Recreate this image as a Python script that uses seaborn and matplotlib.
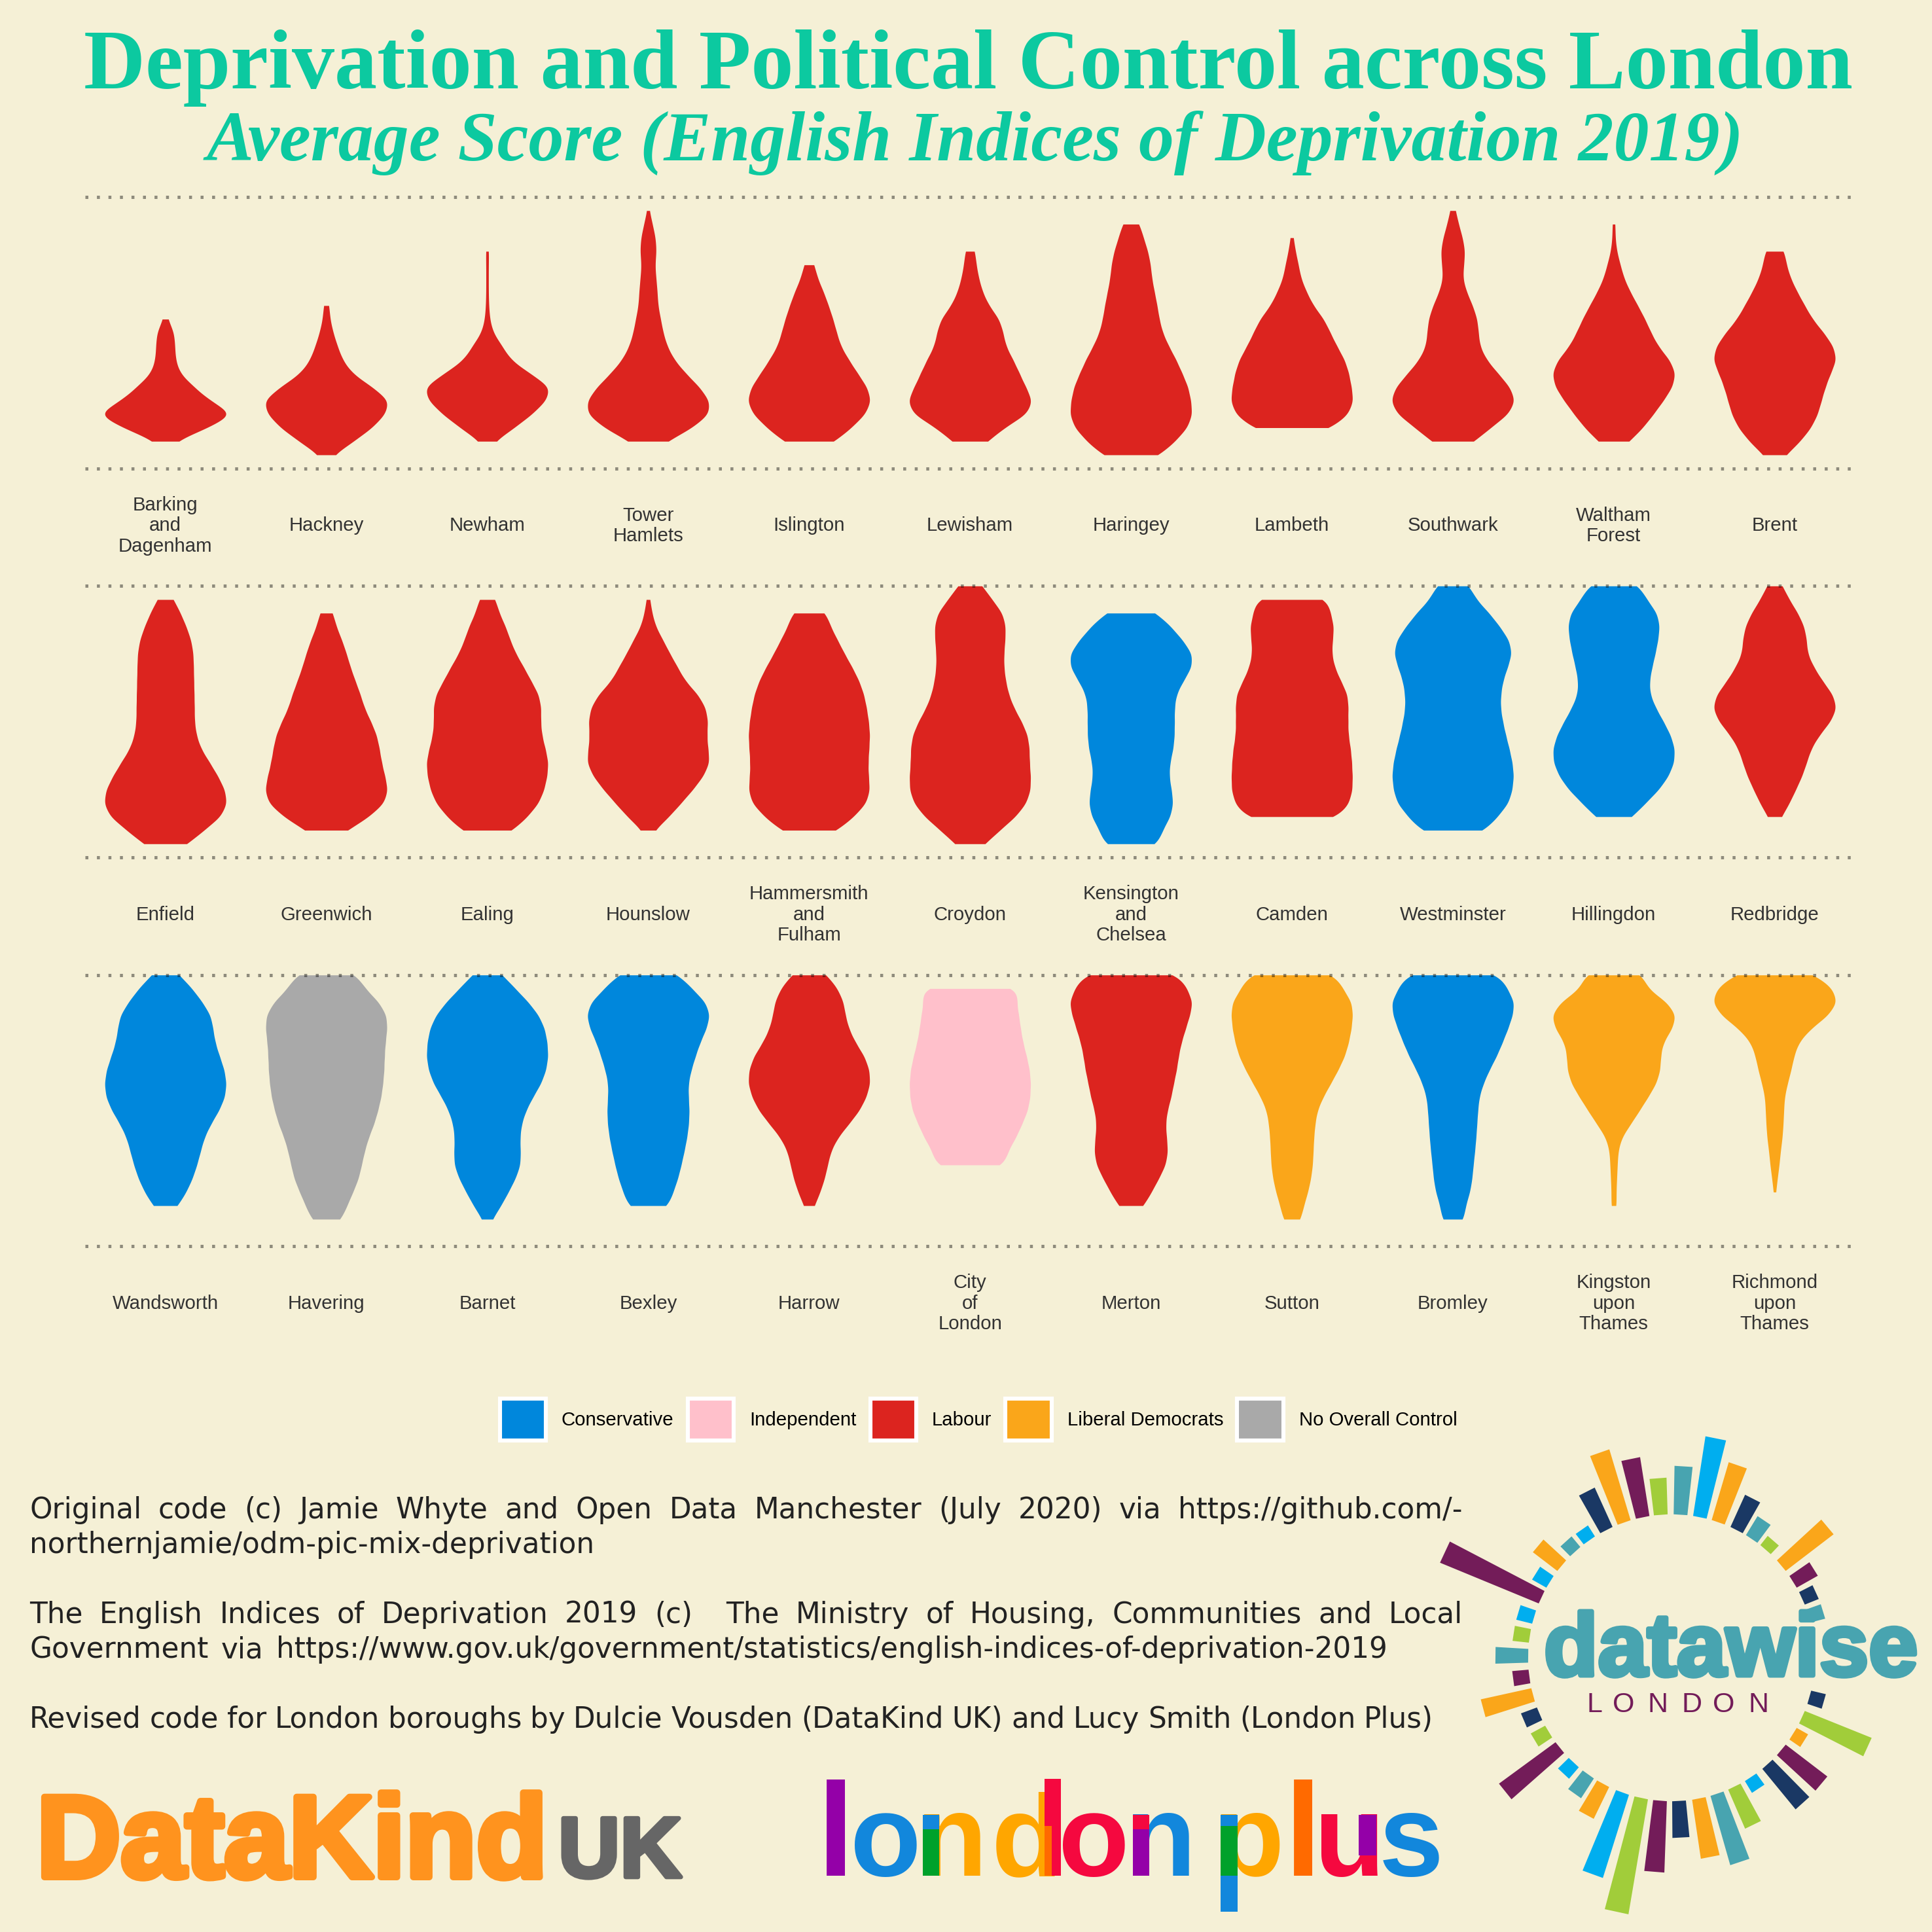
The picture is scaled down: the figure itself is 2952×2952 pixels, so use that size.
import numpy as np
import seaborn as sns
import matplotlib.pyplot as plt
import matplotlib.patheffects as pe
from matplotlib.patches import Patch, Rectangle

BG = '#F5F0D6'
party_colours = {'Conservative': '#0087DC', 'Independent': '#FFC0CB', 'Labour': '#DC241F',
                 'Liberal Democrats': '#FAA61A', 'No Overall Control': '#A9A9A9'}

# boroughs by row, most deprived first
row1_names = ['Barking\nand\nDagenham', 'Hackney', 'Newham', 'Tower\nHamlets', 'Islington', 'Lewisham',
              'Haringey', 'Lambeth', 'Southwark', 'Waltham\nForest', 'Brent']
row1_party = ['Labour'] * 11
row1_start = [9, 8, 4, 1, 5, 4, 2, 3, 1, 2, 4]
row1_counts = [
    [7, 26, 28, 30, 42, 85, 130, 207, 125, 28],
    [9, 12, 22, 36, 52, 82, 148, 204, 190, 148, 88, 23],
    [5, 4, 4, 4, 5, 8, 18, 48, 73, 135, 202, 187, 142, 86, 23],
    [4, 14, 24, 27, 22, 26, 30, 32, 41, 49, 62, 85, 123, 168, 201, 201, 145, 63],
    [17, 28, 48, 64, 79, 91, 104, 131, 160, 191, 205, 186, 139, 86],
    [16, 20, 28, 40, 60, 94, 106, 114, 138, 158, 178, 200, 184, 108, 58],
    [29, 42, 57, 66, 70, 79, 88, 95, 106, 127, 152, 172, 192, 201, 206, 190, 148, 98],
    [5, 12, 22, 30, 49, 71, 107, 128, 150, 176, 190, 198, 205, 189, 135],
    [9, 19, 32, 40, 36, 32, 45, 65, 80, 84, 88, 110, 148, 187, 205, 183, 123, 71],
    [5, 5, 10, 22, 34, 55, 80, 104, 124, 147, 186, 206, 195, 165, 132, 97, 52],
    [33, 39, 53, 75, 100, 125, 163, 195, 206, 185, 168, 155, 143, 121, 85, 38],
]

row2_names = ['Enfield', 'Greenwich', 'Ealing', 'Hounslow', 'Hammersmith\nand\nFulham', 'Croydon',
              'Kensington\nand\nChelsea', 'Camden', 'Westminster', 'Hillingdon', 'Redbridge']
row2_party = ['Labour'] * 6 + ['Conservative', 'Labour', 'Conservative', 'Conservative', 'Labour']
row2_start = [1, 2, 1, 1, 2, 0, 2, 1, 0, 0, 0]
row2_counts = [
    [27, 50, 69, 85, 92, 93, 94, 95, 96, 96, 102, 117, 146, 173, 196, 204, 184, 127, 74],
    [22, 33, 52, 67, 80, 96, 113, 126, 148, 167, 176, 183, 194, 204, 193, 142, 71],
    [28, 40, 62, 77, 96, 123, 147, 173, 181, 179, 183, 195, 205, 201, 191, 173, 135, 87],
    [6, 13, 25, 50, 73, 99, 123, 167, 193, 200, 196, 200, 206, 185, 150, 110, 70, 21],
    [58, 72, 96, 119, 145, 168, 184, 193, 200, 204, 201, 198, 199, 204, 193, 150, 96],
    [42, 74, 110, 120, 118, 114, 114, 120, 130, 148, 174, 194, 200, 200, 204, 204, 190, 154, 100, 51],
    [85, 132, 170, 202, 200, 172, 148, 143, 143, 143, 139, 128, 125, 133, 139, 130, 103, 90],
    [122, 130, 142, 137, 134, 144, 165, 188, 190, 189, 190, 198, 202, 204, 204, 193, 160],
    [57, 78, 123, 158, 190, 199, 184, 168, 161, 160, 168, 178, 190, 200, 205, 200, 188, 150, 110],
    [88, 111, 147, 155, 149, 140, 129, 120, 122, 142, 168, 192, 206, 204, 185, 153, 107, 63],
    [26, 48, 77, 98, 106, 108, 130, 158, 193, 206, 185, 147, 120, 106, 91, 70, 49, 23],
]

row3_names = ['Wandsworth', 'Havering', 'Barnet', 'Bexley', 'Harrow', 'City\nof\nLondon', 'Merton', 'Sutton',
              'Bromley', 'Kingston\nupon\nThames', 'Richmond\nupon\nThames']
row3_party = ['Conservative', 'No Overall Control', 'Conservative', 'Conservative', 'Labour', 'Independent',
              'Labour', 'Liberal Democrats', 'Conservative', 'Liberal Democrats', 'Liberal Democrats']
row3_start = [0, 0, 0, 0, 0, 1, 0, 0, 0, 0, 0]
row3_counts = [
    [47, 90, 124, 153, 160, 167, 182, 198, 205, 200, 180, 152, 130, 118, 106, 91, 70, 42],
    [105, 130, 178, 204, 205, 199, 196, 195, 191, 185, 174, 161, 142, 129, 119, 109, 90, 70, 51],
    [52, 95, 140, 176, 196, 204, 207, 200, 183, 155, 131, 116, 111, 113, 113, 96, 72, 47, 17],
    [105, 145, 192, 206, 193, 172, 157, 143, 133, 134, 137, 135, 129, 120, 110, 99, 83, 68],
    [60, 95, 115, 121, 133, 155, 185, 201, 204, 191, 168, 132, 95, 72, 62, 52, 37, 18],
    [165, 156, 164, 170, 178, 190, 200, 204, 202, 194, 174, 154, 126, 118],
    [160, 185, 205, 194, 180, 166, 157, 151, 141, 133, 120, 114, 118, 122, 115, 92, 68, 42],
    [149, 171, 202, 205, 200, 191, 178, 156, 131, 105, 85, 78, 74, 72, 70, 64, 54, 40, 30],
    [158, 180, 205, 198, 182, 164, 145, 121, 101, 87, 83, 80, 77, 73, 68, 64, 57, 42, 37],
    [98, 108, 175, 205, 190, 160, 153, 152, 139, 112, 84, 55, 25, 14, 12, 10, 8, 9],
    [138, 190, 206, 175, 115, 77, 63, 54, 42, 32, 30, 28, 25, 19, 15, 9, 4],
]

# ring of bars round the datawise logo: clockwise angle from north, length, colour index
ring_angle = [3.6, 11.4, 19, 27, 34, 41, 50, 58, 65.5, 73, 106, 114.5, 122, 130, 138, 146.5, 154, 161.5, 169, 177,
              184.6, 192.2, 200, 208.5, 215.5, 223, 231.2, 239, 247, 255, 262.5, 270.8, 278.8, 286.5, 295, 302,
              310, 317.8, 325, 333, 340.7, 348.4, 355.7]
ring_len = [74, 123, 92, 54, 34, 18, 92, 37, 23, 23, 23, 110, 20, 80, 80, 21, 65, 110, 91, 56, 109, 178, 133, 54,
            36, 23, 107, 25, 26, 79, 25, 50, 25, 25, 163, 25, 47, 21, 20, 66, 113, 91, 56]
ring_col = ['t', 'c', 'o', 'n', 't', 'g', 'o', 'p', 'n', 't', 'n', 'g', 'o', 'p', 'n', 'c', 'g', 't', 'o', 'n',
            'p', 'g', 'c', 'o', 't', 'c', 'p', 'g', 'n', 'o', 'p', 't', 'g', 'c', 'p', 'c', 'o', 't', 'c', 'n',
            'o', 'p', 'g']
ring_palette = {'t': '#48A4B0', 'c': '#00AEEF', 'o': '#FAA61A', 'n': '#1A3864', 'g': '#A1CD3A', 'p': '#731C59'}

# text, baseline, right edge the words are spread to (None leaves the line as it is)
caption_lines = [
    ('Original code (c) Jamie Whyte and Open Data Manchester (July 2020) via https://github.com/-', 2320, 2235),
    ('northernjamie/odm-pic-mix-deprivation', 2373, None),
    ('The English Indices of Deprivation 2019 (c)  The Ministry of Housing, Communities and Local', 2480, 2235),
    ('Government via https://www.gov.uk/government/statistics/english-indices-of-deprivation-2019', 2533, 2120),
    ('Revised code for London boroughs by Dulcie Vousden (DataKind UK) and Lucy Smith (London Plus)', 2640, 2190),
]

sns.set_theme(style='white', rc={'figure.facecolor': BG, 'axes.facecolor': 'none'})
plt.rcParams['font.family'] = ['Liberation Sans', 'DejaVu Sans']

PX = 2952
fig = plt.figure(figsize=(14.76, 14.76), dpi=200, facecolor=BG)


def draw_row(top, bottom, names, parties, starts, counts):
    ax = fig.add_axes([129.7 / PX, 1 - bottom / PX, (2834.5 - 129.7) / PX, (bottom - top) / PX])
    for i in range(len(names)):
        levels = starts[i] + np.arange(len(counts[i]))
        scores = np.repeat(levels, counts[i]).astype(float)
        # narrow fixed bandwidth, the counts already follow the outline
        sns.violinplot(x=np.full(len(scores), i), y=scores, native_scale=True, orient='x',
                       color=party_colours[parties[i]], saturation=1, width=0.752, density_norm='width',
                       cut=0, gridsize=500, bw_method=0.62 / scores.std(), inner=None, linewidth=0, ax=ax)
    ax.set_xlim(-0.5, 10.5)
    ax.set_ylim(20, 0)
    for y in (0, 20):
        ax.axhline(y, color='black', alpha=0.42, lw=1.8, ls=(0, (0.9, 2.62)), dash_capstyle='butt',
                   clip_on=False, zorder=5)
    ax.set_yticks([])
    ax.set_ylabel('')
    ax.set_xticks(range(len(names)))
    ax.set_xticklabels(names, linespacing=1.15)
    ax.tick_params(axis='x', length=0, pad=31.5, labelsize=10.6, labelcolor='#333333')
    for label in ax.get_xticklabels():
        label.set_va('center')
    sns.despine(ax=ax, left=True, bottom=True)
    return ax


draw_row(301, 715.7, row1_names, row1_party, row1_start, row1_counts)
draw_row(895.3, 1310, row2_names, row2_party, row2_start, row2_counts)
draw_row(1489.7, 1904.3, row3_names, row3_party, row3_start, row3_counts)

# overlay in picture pixels for title, caption and logos
top = fig.add_axes([0, 0, 1, 1], zorder=10)
top.set_xlim(0, PX)
top.set_ylim(PX, 0)
top.axis('off')
renderer = fig.canvas.get_renderer()


def fit_text(s, x0, x1, y, size, **kw):
    t = top.text(x0, y, s, fontsize=size, va='baseline', ha='left', **kw)
    w = t.get_window_extent(renderer).width
    t.set_fontsize(size * (x1 - x0) / w)
    return t


fit_text('Deprivation and Political Control across London', 128, 2830, 135, 46,
         family='Liberation Serif', weight='bold', color='#0CC9A0')
fit_text('Average Score (English Indices of Deprivation 2019)', 316, 2662, 245, 36,
         family='Liberation Serif', weight='bold', style='italic', color='#0CC9A0')

# legend
handles = [Patch(facecolor=c, edgecolor='white', linewidth=2.2, label=p) for p, c in party_colours.items()]
fig.legend(handles=handles, loc='center', bbox_to_anchor=(1495 / PX, 1 - 2169 / PX), ncol=5, frameon=False,
           fontsize=10.6, handlelength=2.4, handleheight=3.0, handletextpad=0.8, columnspacing=0.72,
           labelcolor='black')

# caption, some lines justified to the column
CAP_SIZE = 15.75
for line, y, right in caption_lines:
    if right is None:
        top.text(45, y, line, fontsize=CAP_SIZE, family='DejaVu Sans', color='#222222', va='baseline')
        continue
    words = line.split(' ')
    items = [top.text(0, y, w, fontsize=CAP_SIZE, family='DejaVu Sans', color='#222222', va='baseline')
             for w in words]
    widths = [t.get_window_extent(renderer).width if w else 0 for t, w in zip(items, words)]
    gap = (right - 45 - sum(widths)) / (len(words) - 1)
    x = 45
    for t, w in zip(items, widths):
        t.set_x(x)
        x += w + gap

# DataKind UK logo
heavy = dict(family='Liberation Sans', weight='bold', va='baseline')
top.text(56, 2868, 'DataKind', fontsize=64, color='#FF931E', **heavy,
         path_effects=[pe.withStroke(linewidth=3.6, foreground='#FF931E')])
top.text(853, 2868, 'UK', fontsize=47, color='#666666', **heavy,
         path_effects=[pe.withStroke(linewidth=2.4, foreground='#666666')])

# london plus logo, letter by letter with the overlapping stems on top
LP = {'purple': '#9400A8', 'blue': '#1287DC', 'amber': '#FFA600', 'red': '#F5083F', 'green': '#00A12B',
      'deep': '#FF6A00'}
lp_letters = [('l', 1277, 'purple', 73), ('o', 1353, 'blue', 64), ('n', 1454, 'amber', 64), ('d', 1569, 'amber', 64),
              ('o', 1671, 'red', 64), ('n', 1773, 'blue', 64), ('p', 1908, 'amber', 64), ('l', 1991, 'deep', 73),
              ('u', 2062, 'red', 64), ('s', 2156, 'blue', 64)]
for ch, x, col, size in lp_letters:
    top.text(x, 2866, ch, fontsize=size, color=LP[col], ha='center', **heavy)
lp_stems = [(1410, 1435, 2773, 2795, 'blue'), (1410, 1435, 2795, 2866, 'green'), (1596, 1621, 2718, 2866, 'red'),
            (1596, 1607, 2790, 2866, 'deep'), (1731, 1756, 2773, 2795, 'red'), (1731, 1756, 2795, 2866, 'purple'),
            (1865, 1891, 2773, 2921, 'blue'), (1865, 1891, 2790, 2866, 'green'), (2076, 2103, 2773, 2835, 'purple')]
for x0, x1, y0, y1, col in lp_stems:
    top.add_patch(Rectangle((x0, y0), x1 - x0, y1 - y0, color=LP[col], lw=0, zorder=4))

# datawise ring
CX, CY, R0 = 2554, 2533, 219
for ang, length, c in zip(ring_angle, ring_len, ring_col):
    th = np.radians(ang)
    ux, uy = np.sin(th), -np.cos(th)
    vx, vy = np.cos(th), np.sin(th)
    r = np.array([R0, R0 + length])
    hw = np.array([10.5, 10.5 + length * 0.045])
    xs = [CX + r[0] * ux - hw[0] * vx, CX + r[1] * ux - hw[1] * vx, CX + r[1] * ux + hw[1] * vx, CX + r[0] * ux + hw[0] * vx]
    ys = [CY + r[0] * uy - hw[0] * vy, CY + r[1] * uy - hw[1] * vy, CY + r[1] * uy + hw[1] * vy, CY + r[0] * uy + hw[0] * vy]
    top.fill(xs, ys, color=ring_palette[c], lw=0)

top.text(2359, 2560, 'datawise', fontsize=48.7, color='#48A4B0', **heavy,
         path_effects=[pe.withStroke(linewidth=2.5, foreground='#48A4B0')])
for ch, x in zip('LONDON', [2436, 2481, 2533, 2585, 2634, 2687]):
    top.text(x, 2616, ch, fontsize=15.5, color='#731C59', ha='center', va='baseline')

fig.savefig('out.png', dpi=200, facecolor=BG)
